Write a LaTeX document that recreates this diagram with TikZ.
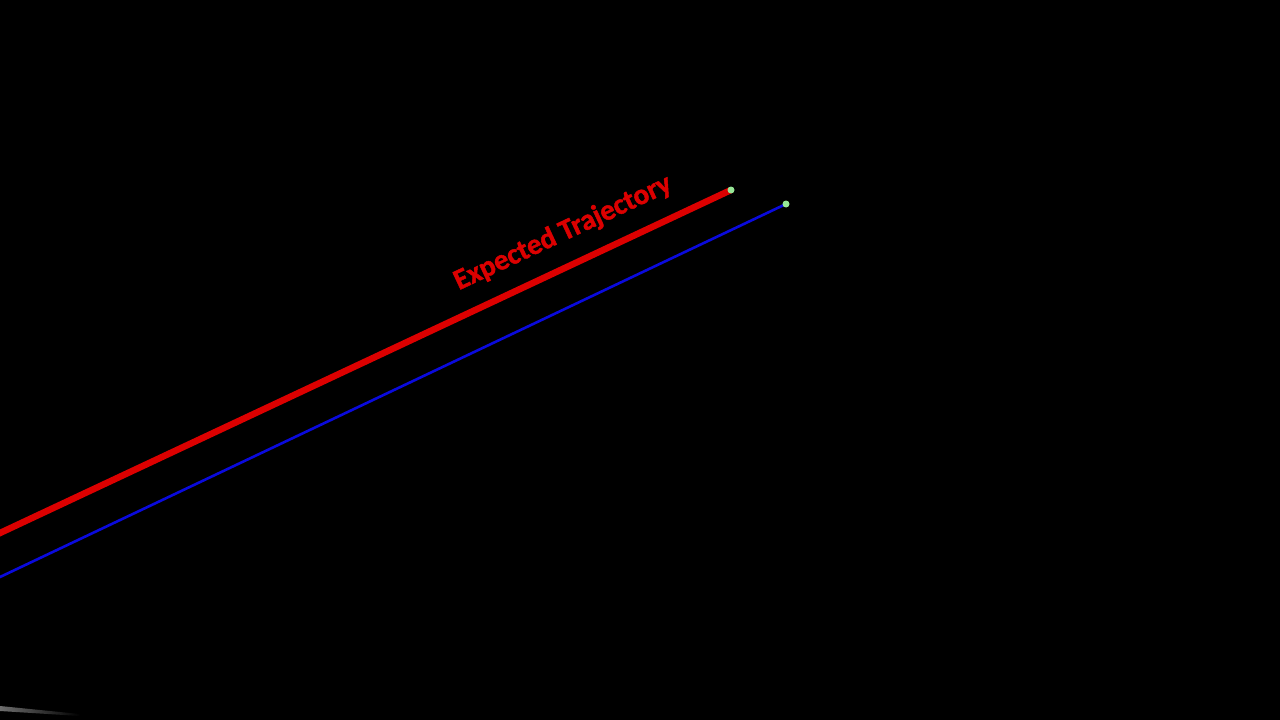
\documentclass[tikz,border=0pt]{standalone}
\usepackage{fontspec}
\setsansfont{Carlito}
\begin{document}
\begin{tikzpicture}[x=1pt,y=-1pt,
  redline/.style={draw={rgb,255:red,220;green,0;blue,0},line width=6.5pt},
  blueline/.style={draw={rgb,255:red,10;green,10;blue,220},line width=2.6pt},
  enddot/.style={circle,fill={rgb,255:red,150;green,230;blue,150},inner sep=0pt,minimum size=7pt},
  lbl/.style={text={rgb,255:red,220;green,0;blue,0},font=\sffamily\bfseries\fontsize{29}{32}\selectfont}]
\fill[black] (0,0) rectangle (1280,720);
\useasboundingbox (0,0) rectangle (1280,720);
\coordinate (r0) at (-20,542.4);
\coordinate (r1) at (731,190);
\coordinate (b0) at (-20,586.5);
\coordinate (b1) at (786,204);
\draw[redline] (r0) -- (r1);
\draw[blueline] (b0) -- (b1);
\node[enddot] (rd) at (r1) {};
\node[enddot] (bd) at (b1) {};
\node[lbl,rotate=25.1,inner sep=0pt] (t) at (563,233) {\textbf{\fontspec{Carlito}[FakeBold=1.5]Expected Trajectory}};
\shade[left color={rgb,255:red,110;green,110;blue,110},right color=black] (0,706) -- (80,714) -- (80,716) -- (0,711) -- cycle;
\end{tikzpicture}
\end{document}
